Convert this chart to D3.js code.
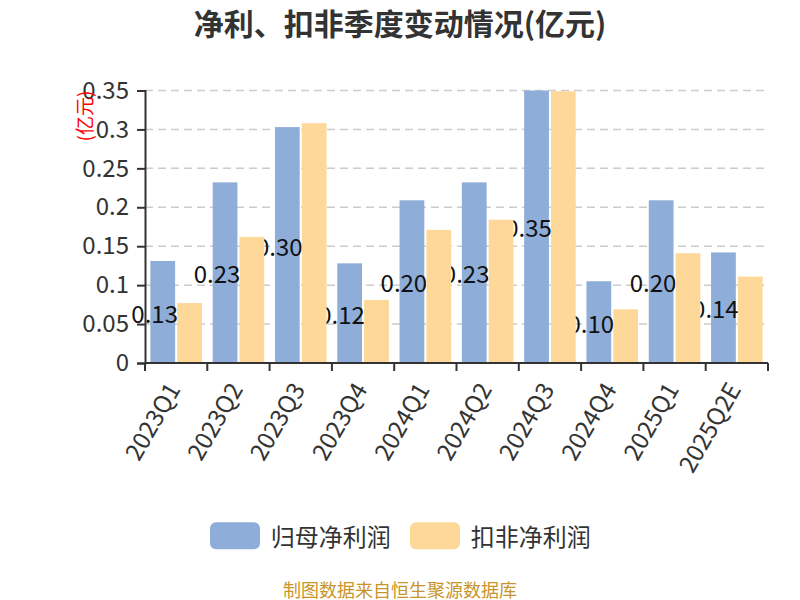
<!DOCTYPE html>
<html><head><meta charset="utf-8">
<script src="https://cdn.jsdelivr.net/npm/d3@7/dist/d3.min.js"></script>
<style>body{margin:0;background:#fff}svg{display:block}</style>
</head><body>
<svg id="c" width="800" height="600"></svg>
<script>
const categories = ["2023Q1","2023Q2","2023Q3","2023Q4","2024Q1","2024Q2","2024Q3","2024Q4","2025Q1","2025Q2E"];
const netProfit = [0.131,0.232,0.303,0.128,0.209,0.232,0.35,0.105,0.209,0.142];
const deductedProfit = [0.077,0.162,0.308,0.081,0.171,0.184,0.349,0.069,0.141,0.111];
const labelTexts = ["0.131","0.23","0.30","0.12","0.20","0.23","0.35","0.10","0.20","0.14"];
const yTicks = [0,0.05,0.1,0.15,0.2,0.25,0.3,0.35];
const seriesNames = ["归母净利润","扣非净利润"];
const colors = ["#8eadd9","#fed898"];

const FONT = "'Noto Sans CJK SC','Noto Sans',sans-serif";
const svg = d3.select("#c");
const L = 145, R = 768, T = 90.5, B = 363;
const x = d3.scaleBand().domain(categories).range([L, R]);
const sub = d3.scaleBand().domain([0,1]).range([0, x.bandwidth()]).paddingInner(0.077).paddingOuter(0.2);
const y = d3.scaleLinear().domain([0, 0.35]).range([B, T]);

// title
svg.append("text").attr("x", 400).attr("y", 22).attr("text-anchor","middle").attr("dominant-baseline","central")
  .attr("font-family", FONT).attr("font-weight","bold").attr("font-size", 30).attr("fill","#333")
  .text("净利、扣非季度变动情况(亿元)");

// grid
svg.append("g").selectAll("line").data(yTicks.filter(d => d > 0)).join("line")
  .attr("x1", L).attr("x2", R).attr("y1", d => y(d)).attr("y2", d => y(d))
  .attr("stroke", "#ccc").attr("stroke-width", 1.5).attr("stroke-dasharray", "8,5");

// y axis
const ya = svg.append("g").attr("transform", `translate(${L},0)`)
  .call(d3.axisLeft(y).tickValues(yTicks).tickSize(8).tickPadding(8).tickFormat(d3.format("")));
ya.select(".domain").attr("stroke","#333").attr("stroke-width",2);
ya.selectAll(".tick line").attr("stroke","#333").attr("stroke-width",2);
ya.selectAll(".tick text").attr("font-family", FONT).attr("font-size", 24).attr("fill","#333");

// unit label
svg.append("text").attr("transform", "translate(83,116) rotate(-90)").attr("text-anchor","middle")
  .attr("dominant-baseline","central").attr("font-family", FONT).attr("font-size", 19).attr("fill","red")
  .text("(亿元)");

// blue bars
svg.append("g").selectAll("rect").data(netProfit).join("rect")
  .attr("x", (d,i) => x(categories[i]) + sub(0)).attr("width", sub.bandwidth())
  .attr("y", d => y(d)).attr("height", d => B - y(d)).attr("fill", colors[0]);

// labels
svg.append("g").selectAll("text").data(netProfit).join("text")
  .attr("x", (d,i) => x(categories[i]) + sub(0) - 19)
  .attr("y", d => (y(d) + B) / 2).attr("dominant-baseline","central")
  .attr("font-family", FONT).attr("font-size", 24).attr("fill","#111")
  .text((d,i) => labelTexts[i]);

// orange bars
svg.append("g").selectAll("rect").data(deductedProfit).join("rect")
  .attr("x", (d,i) => x(categories[i]) + sub(1)).attr("width", sub.bandwidth())
  .attr("y", d => y(d)).attr("height", d => B - y(d)).attr("fill", colors[1]);

// x axis
const xa = svg.append("g").attr("transform", `translate(0,${B})`)
  .call(d3.axisBottom(x).tickSize(0).tickPadding(0));
xa.select(".domain").attr("stroke","#333").attr("stroke-width",2).attr("d", `M${L},0H${R}`);
xa.selectAll(".tick text").attr("font-family", FONT).attr("font-size", 24).attr("fill","#333")
  .attr("text-anchor","end").attr("dominant-baseline","central").attr("dy", null).attr("y", 0)
  .attr("transform", "translate(-4,21) rotate(-60)");
// band boundary ticks
svg.append("g").selectAll("line").data(categories.concat(["__end"])).join("line")
  .attr("x1", (d,i) => i < categories.length ? x(d) : R).attr("x2", (d,i) => i < categories.length ? x(d) : R)
  .attr("y1", B).attr("y2", B + 8).attr("stroke","#333").attr("stroke-width",2);

// legend
const lg = svg.append("g");
const legX = [210, 410];
seriesNames.forEach((n, i) => {
  lg.append("rect").attr("x", legX[i]).attr("y", 522.3).attr("width", 50).attr("height", 27).attr("rx", 6).attr("fill", colors[i]);
  lg.append("text").attr("x", legX[i] + 60.7).attr("y", 535).attr("dominant-baseline","central")
    .attr("font-family", FONT).attr("font-size", 24).attr("fill","#333").text(n);
});

// footer
svg.append("text").attr("x", 400).attr("y", 588.5).attr("text-anchor","middle").attr("dominant-baseline","central")
  .attr("font-family", FONT).attr("font-size", 18).attr("fill","#c8952a").text("制图数据来自恒生聚源数据库");
</script>
</body></html>
